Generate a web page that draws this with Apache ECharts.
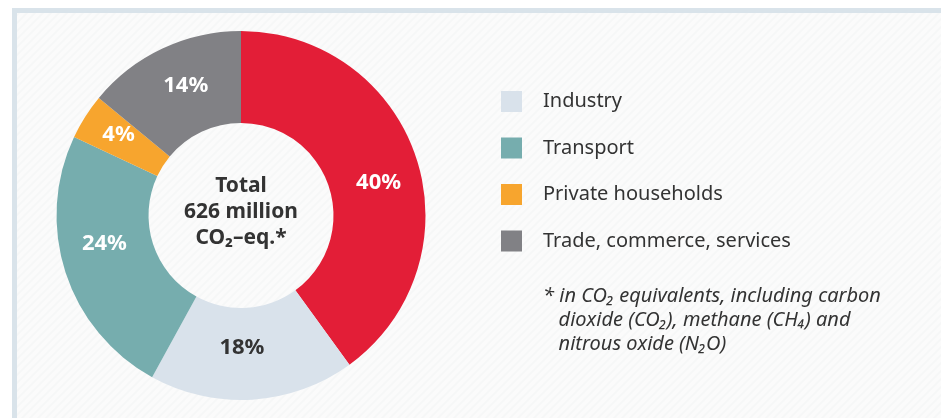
<!DOCTYPE html>
<html>
<head>
<meta charset="utf-8">
<script src="https://cdn.jsdelivr.net/npm/echarts@6/dist/echarts.min.js"></script>
<style>
html,body{margin:0;padding:0;background:#ffffff;}
#chart{width:941px;height:418px;}
</style>
</head>
<body>
<div id="chart"></div>
<script>
// Data
const sectors = ['Energy sector', 'Industry', 'Transport', 'Private households', 'Trade, commerce, services'];
const shares = [40, 18, 24, 4, 14];
const colors = ['#e31e37', '#d9e2eb', '#76adae', '#f7a52e', '#818185'];
const labelColors = ['#ffffff', '#333333', '#ffffff', '#ffffff', '#ffffff'];
const labelOffsets = [[3, 11], [-8, -9], [-2, -15], [-3, -5], [5, -2]];
const legendNames = ['Industry', 'Transport', 'Private households', 'Trade, commerce, services'];
const centerLines = ['Total', '626 million', 'CO₂–eq.*'];
const footnoteLines = ['* in CO₂ equivalents, including carbon', '   dioxide (CO₂), methane (CH₄) and', '   nitrous oxide (N₂O)'];

const chart = echarts.init(document.getElementById('chart'));

// faint diagonal stripe pattern
const pc = document.createElement('canvas');
pc.width = 8; pc.height = 8;
const pctx = pc.getContext('2d');
pctx.fillStyle = '#fbfbfb';
pctx.fillRect(0, 0, 8, 8);
pctx.strokeStyle = '#f6f7f7';
pctx.lineWidth = 2;
pctx.beginPath();
pctx.moveTo(0, 8); pctx.lineTo(8, 0);
pctx.moveTo(-4, 4); pctx.lineTo(4, -4);
pctx.moveTo(4, 12); pctx.lineTo(12, 4);
pctx.stroke();

const option = {
  backgroundColor: '#ffffff',
  animation: false,
  legend: {
    data: legendNames.map(n => ({ name: n, icon: 'rect' })),
    orient: 'vertical',
    left: 496,
    top: 86,
    itemWidth: 21,
    itemHeight: 21,
    itemGap: 25.5,
    selectedMode: false,
    textStyle: {
      fontFamily: 'Noto Sans',
      fontSize: 20,
      color: '#333333',
      padding: [0, 0, 0, 16]
    }
  },
  graphic: [
    { type: 'rect', z: -10, shape: { x: 17, y: 13, width: 930, height: 410 }, style: { fill: { image: pc, repeat: 'repeat' } } },
    { type: 'rect', z: -9, shape: { x: 12, y: 8, width: 930, height: 5 }, style: { fill: '#d9e3ea' } },
    { type: 'rect', z: -9, shape: { x: 12, y: 8, width: 5, height: 415 }, style: { fill: '#d9e3ea' } },
    {
      type: 'text', z: 10,
      x: 241, y: 212,
      style: {
        text: centerLines.join('\n'),
        align: 'center', verticalAlign: 'middle',
        font: 'bold 21px "Noto Sans"',
        lineHeight: 26,
        fill: '#333333'
      }
    },
    {
      type: 'text', z: 10,
      x: 543, y: 284,
      style: {
        text: footnoteLines.join('\n'),
        font: 'italic 20px "Noto Sans"',
        lineHeight: 24,
        fill: '#333333'
      }
    }
  ],
  series: [{
    type: 'pie',
    center: [241, 215.5],
    radius: [92.5, 184.5],
    startAngle: 90,
    clockwise: true,
    avoidLabelOverlap: false,
    silent: true,
    label: {
      show: true,
      position: 'inside',
      fontFamily: 'Noto Sans',
      fontWeight: 'bold',
      fontSize: 22,
      formatter: p => p.value + '%'
    },
    labelLine: { show: false },
    itemStyle: { borderWidth: 0 },
    data: sectors.map((n, i) => ({
      name: n,
      value: shares[i],
      itemStyle: { color: colors[i] },
      label: { color: labelColors[i], offset: labelOffsets[i] }
    }))
  }]
};
chart.setOption(option);
</script>
</body>
</html>
